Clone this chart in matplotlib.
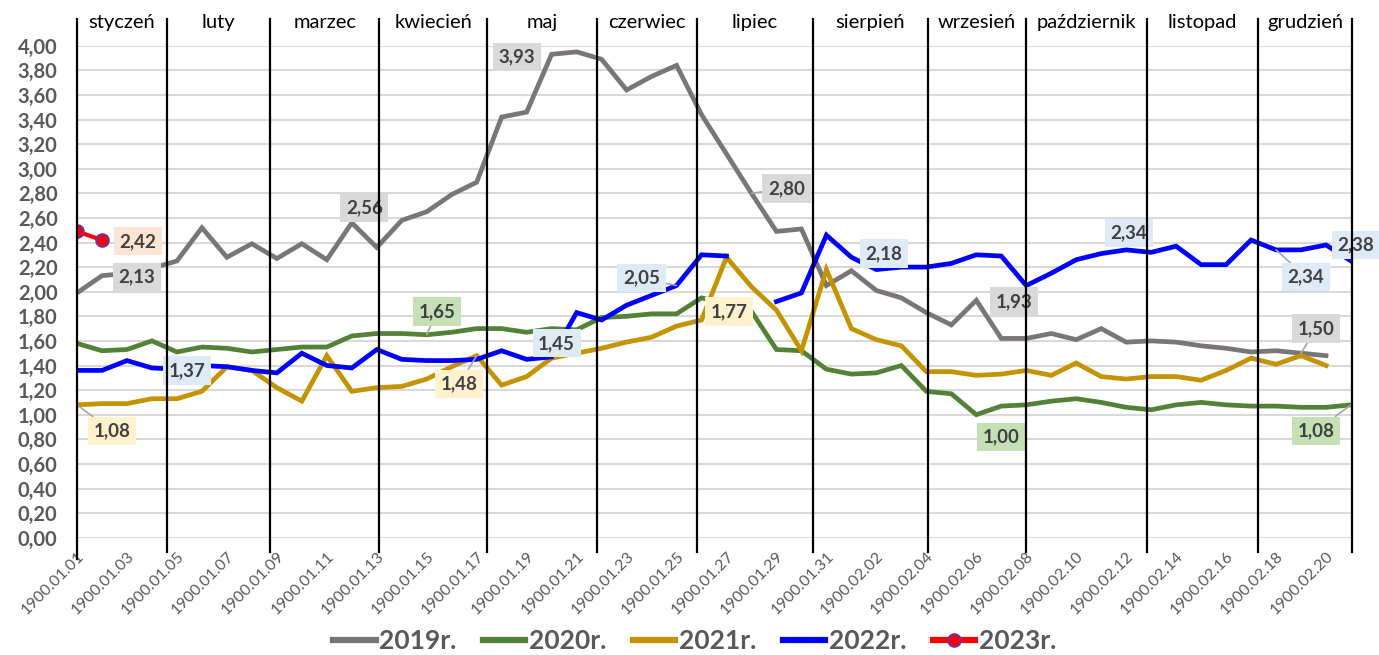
import matplotlib
matplotlib.use("Agg")
import matplotlib.pyplot as plt
import numpy as np

nan = np.nan

# x tick labels (every second week)
tick_labels = ["1900.01.01", "1900.01.03", "1900.01.05", "1900.01.07", "1900.01.09",
               "1900.01.11", "1900.01.13", "1900.01.15", "1900.01.17", "1900.01.19",
               "1900.01.21", "1900.01.23", "1900.01.25", "1900.01.27", "1900.01.29",
               "1900.01.31", "1900.02.02", "1900.02.04", "1900.02.06", "1900.02.08",
               "1900.02.10", "1900.02.12", "1900.02.14", "1900.02.16", "1900.02.18",
               "1900.02.20"]

months = ["styczeń", "luty", "marzec", "kwiecień", "maj", "czerwiec", "lipiec",
          "sierpień", "wrzesień", "październik", "listopad", "grudzień"]
# month borders in week units
month_edges = [0, 3.61, 7.73, 12.1, 16.43, 20.8, 24.8, 29.45, 34.05, 37.98, 42.83, 47.28, 51.04]

y2019 = [1.99, 2.13, 2.15, 2.19, 2.25, 2.52, 2.28, 2.39, 2.27, 2.39,
         2.26, 2.56, 2.36, 2.58, 2.65, 2.79, 2.89, 3.42, 3.46, 3.93,
         3.95, 3.89, 3.64, 3.75, 3.84, 3.44, 3.12, 2.80, 2.49, 2.51,
         2.05, 2.17, 2.01, 1.95, 1.83, 1.73, 1.93, 1.62, 1.62, 1.66,
         1.61, 1.70, 1.59, 1.60, 1.59, 1.56, 1.54, 1.51, 1.52, 1.50,
         1.48, nan]
y2020 = [1.58, 1.52, 1.53, 1.60, 1.51, 1.55, 1.54, 1.51, 1.53, 1.55,
         1.55, 1.64, 1.66, 1.66, 1.65, 1.67, 1.70, 1.70, 1.67, 1.70,
         1.69, 1.79, 1.80, 1.82, 1.82, 1.95, 1.90, 1.84, 1.53, 1.52,
         1.37, 1.33, 1.34, 1.40, 1.19, 1.17, 1.00, 1.07, 1.08, 1.11,
         1.13, 1.10, 1.06, 1.04, 1.08, 1.10, 1.08, 1.07, 1.07, 1.06,
         1.06, 1.08]
y2021 = [1.08, 1.09, 1.09, 1.13, 1.13, 1.19, 1.39, 1.36, 1.22, 1.11,
         1.48, 1.19, 1.22, 1.23, 1.29, 1.39, 1.48, 1.24, 1.31, 1.46,
         1.50, 1.54, 1.59, 1.63, 1.72, 1.77, 2.28, 2.04, 1.85, 1.52,
         2.18, 1.70, 1.61, 1.56, 1.35, 1.35, 1.32, 1.33, 1.36, 1.32,
         1.42, 1.31, 1.29, 1.31, 1.31, 1.28, 1.36, 1.46, 1.41, 1.48,
         1.40, nan]
y2022 = [1.36, 1.36, 1.44, 1.38, 1.37, 1.40, 1.39, 1.36, 1.34, 1.50,
         1.40, 1.38, 1.53, 1.45, 1.44, 1.44, 1.45, 1.52, 1.45, 1.47,
         1.83, 1.77, 1.89, 1.97, 2.05, 2.30, 2.29, nan, 1.92, 1.99,
         2.46, 2.28, 2.18, 2.20, 2.20, 2.23, 2.30, 2.29, 2.05, 2.15,
         2.26, 2.31, 2.34, 2.32, 2.37, 2.22, 2.22, 2.42, 2.34, 2.34,
         2.38, 2.25]
y2023 = [2.49, 2.42]

series = {"2019r.": y2019, "2020r.": y2020, "2021r.": y2021, "2022r.": y2022, "2023r.": y2023}
colors = {"2019r.": "#7a7676", "2020r.": "#538135", "2021r.": "#c39300",
          "2022r.": "#0000ff", "2023r.": "#ff0000"}
box_colors = {"2019r.": "#d9d9d9", "2020r.": "#c5e0b4", "2021r.": "#fff2cc",
              "2022r.": "#deebf7", "2023r.": "#fbe5d6"}

# data labels: series, week index, label position, leader line
point_labels = [
    ("2023r.", 1, 2.44, 2.41, False),
    ("2019r.", 1, 2.40, 2.12, False),
    ("2019r.", 11, 11.5, 2.68, False),
    ("2020r.", 14, 14.4, 1.84, True),
    ("2019r.", 19, 17.6, 3.91, False),
    ("2019r.", 27, 28.4, 2.84, True),
    ("2022r.", 24, 22.6, 2.11, True),
    ("2022r.", 4, 4.4, 1.36, False),
    ("2021r.", 0, 1.4, 0.87, True),
    ("2021r.", 16, 15.3, 1.25, True),
    ("2022r.", 18, 19.2, 1.58, False),
    ("2021r.", 25, 26.1, 1.84, False),
    ("2022r.", 32, 32.3, 2.31, False),
    ("2019r.", 36, 37.5, 1.92, False),
    ("2020r.", 36, 37.0, 0.82, False),
    ("2022r.", 42, 42.1, 2.48, False),
    ("2022r.", 48, 49.2, 2.12, True),
    ("2022r.", 50, 51.2, 2.38, False),
    ("2019r.", 49, 49.6, 1.70, True),
    ("2020r.", 51, 49.6, 0.87, True),
]

plt.rcParams["font.family"] = ["Lato", "DejaVu Sans"]

fig = plt.figure(figsize=(13.79, 6.55), dpi=100)
ax = fig.add_axes([77 / 1379, 1 - 537.7 / 655, (1351 - 77) / 1379, (537.7 - 45.7) / 655])

for name, vals in series.items():
    x = np.arange(len(vals))
    if name == "2023r.":
        ax.plot(x, vals, color=colors[name], lw=3, marker="o", ms=9,
                mfc="#ff0000", mec="#7030a0", mew=1.5, label=name, zorder=4)
    else:
        ax.plot(x, vals, color=colors[name], lw=3.4, label=name, zorder=3,
                solid_joinstyle="miter")

for name, i, lx, ly, leader in point_labels:
    v = series[name][i]
    txt = f"{v:.2f}".replace(".", ",")
    ax.annotate(txt, xy=(i, v), xytext=(lx, ly), ha="center", va="center",
                fontsize=13.5, fontweight="bold", color="#404040", zorder=6,
                bbox=dict(boxstyle="square,pad=0.3", fc=box_colors[name], ec="none"),
                arrowprops=dict(arrowstyle="-", color="#a6a6a6", lw=1.2,
                                shrinkA=0, shrinkB=0) if leader else None)

# month separators and names
for k, e in enumerate(month_edges):
    bottom = -0.17 if k == 0 else -0.12
    ax.plot([e, e], [bottom, 4.22], color="black", lw=1.6, clip_on=False, zorder=8)
for k, m in enumerate(months):
    xc = (month_edges[k] + month_edges[k + 1]) / 2
    ax.text(xc, 4.19, m, ha="center", va="center", fontsize=14.5, color="#000000",
            clip_on=False, zorder=9)

ax.set_xlim(0, 51)
ax.set_ylim(0, 4.0)
yt = np.round(np.arange(0, 4.01, 0.2), 2)
ax.set_yticks(yt)
ax.set_yticklabels([f"{v:.2f}".replace(".", ",") for v in yt], fontsize=14.5,
                   fontweight="bold", color="#595959")
ax.set_xticks(np.arange(0, 51, 2))
ax.set_xticklabels(tick_labels, rotation=45, ha="right", rotation_mode="anchor",
                   fontsize=11.5, color="#595959")
ax.tick_params(axis="y", length=0, pad=14)
ax.tick_params(axis="x", length=0, pad=8)
ax.grid(axis="y", color="#d9d9d9", lw=1.5, zorder=0)
ax.set_axisbelow(True)
for s in ax.spines.values():
    s.set_visible(False)

leg = fig.legend(loc="center", bbox_to_anchor=(0.504, 0.021), ncol=5, frameon=False,
                 handlelength=1.6, handletextpad=0.15, columnspacing=1.0,
                 prop={"size": 19, "weight": "bold"})
for t in leg.get_texts():
    t.set_color("#595959")
for h in leg.get_lines():
    h.set_linewidth(4.5)

fig.savefig("out.png", dpi=100)
